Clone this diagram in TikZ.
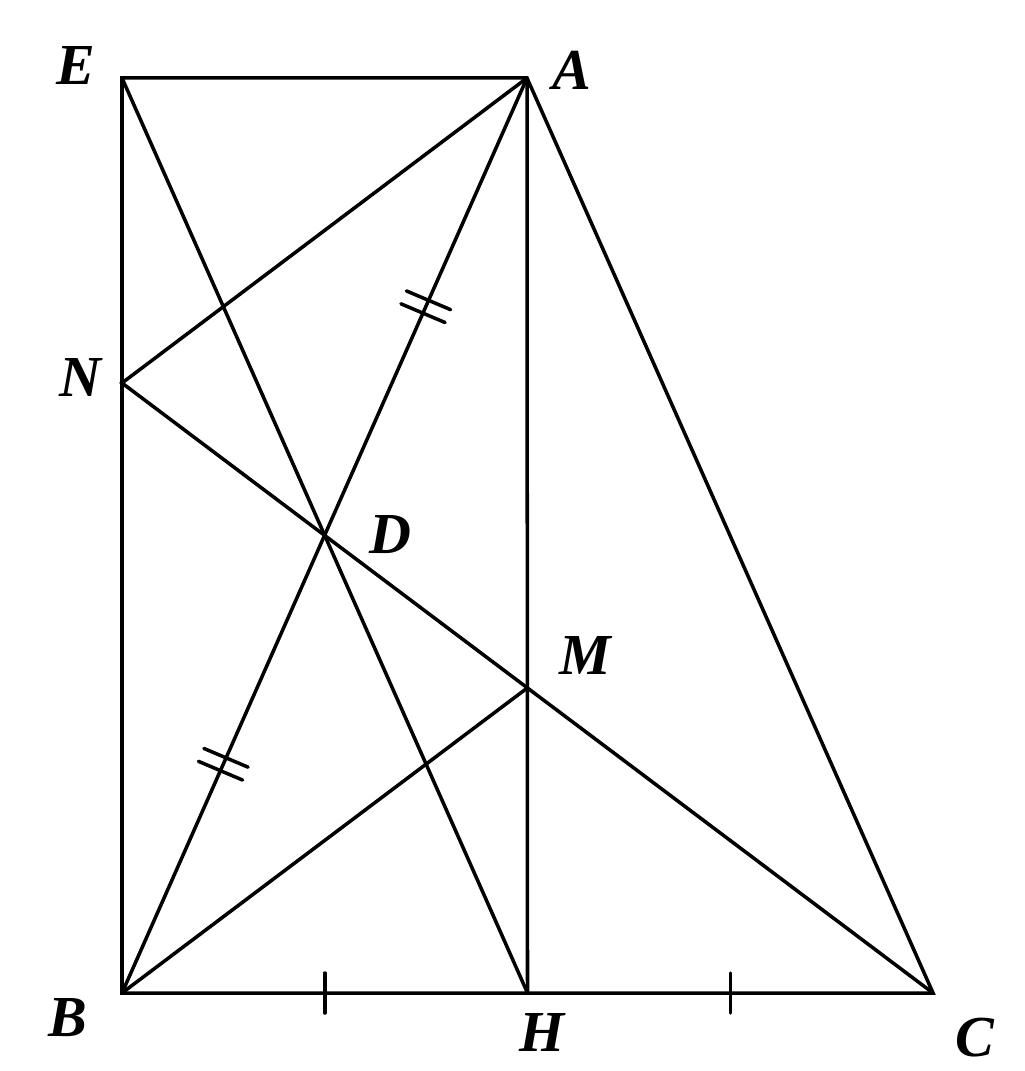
\documentclass[tikz,border=0pt]{standalone}
\usepackage{fontspec}
\setmainfont{Liberation Serif}
\usetikzlibrary{calc}
\begin{document}
\begin{tikzpicture}[x=0.01cm,y=-0.01cm,
  seg/.style={line width=1pt, line cap=round, line join=miter},
  lbl/.style={font=\fontsize{16.5}{20}\selectfont\bfseries\itshape, inner sep=0pt}]
\useasboundingbox (0,0) rectangle (1024,1071);
\coordinate (E) at (122,78);
\coordinate (A) at (527,78);
\coordinate (N) at (122,383);
\coordinate (B) at (122,993);
\coordinate (H) at (527.5,993);
\coordinate (C) at (933,993);
\coordinate (D) at ($(A)!0.5!(B)$);
\coordinate (M) at (intersection of N--C and A--H);
% lines
\draw[seg] (E) -- (A) -- (C) -- (B) -- cycle;
\draw[seg] (A) -- (H);
\draw[seg] (A) -- (N) -- (C);
\draw[seg] (E) -- (H);
\draw[seg] (A) -- (B);
\draw[seg] (B) -- (M);
% single ticks on BC
\coordinate (t1) at ($(B)!0.5!(H)$);
\coordinate (t2) at ($(H)!0.5!(C)$);
\draw[seg] ($(t1)+(0,-20)$) -- ($(t1)+(0,20)$);
\draw[seg] ($(t2)+(0,-20)$) -- ($(t2)+(0,20)$);
% double ticks on AB
\coordinate (d1) at ($(A)!0.5!(D)$);
\coordinate (d2) at ($(D)!0.5!(B)$);
\foreach \p in {d1,d2}{
  \begin{scope}[shift={(\p)}, rotate=-23]
    \draw[seg] (-24,-7) -- (24,-7);
    \draw[seg] (-24,7) -- (24,7);
  \end{scope}
}
% labels
\node[lbl] (lE) at (76,66) {E};
\node[lbl] (lA) at (572,70) {A};
\node[lbl] (lN) at (80,378) {N};
\node[lbl] (lD) at (390,535) {D};
\node[lbl] (lM) at (585,656) {M};
\node[lbl] (lB) at (68,1018) {B};
\node[lbl] (lH) at (542,1032) {H};
\node[lbl] (lC) at (975,1038) {C};
\end{tikzpicture}
\end{document}
